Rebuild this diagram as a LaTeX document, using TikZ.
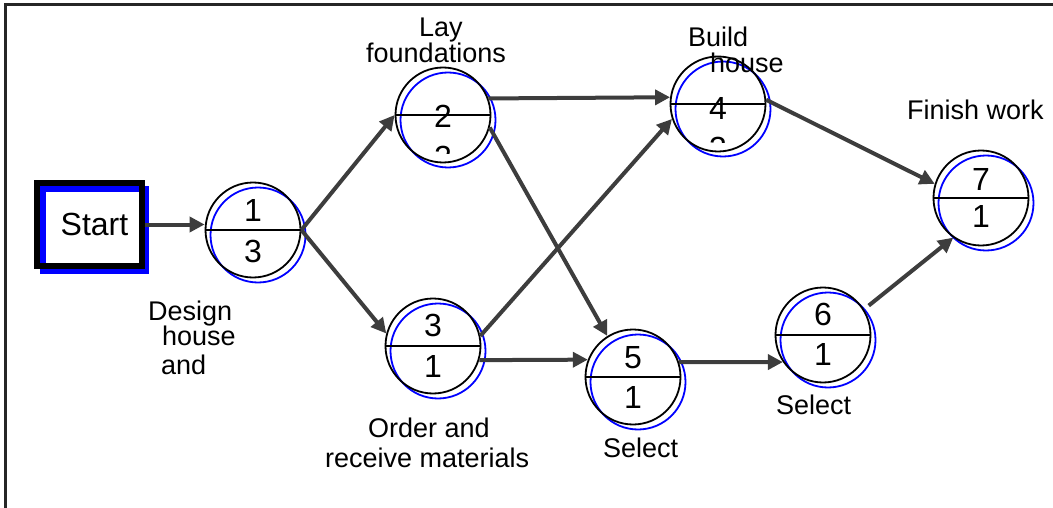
\documentclass[tikz,border=0pt]{standalone}
\usepackage{fontspec}
\setmainfont{Liberation Sans}
\usetikzlibrary{arrows.meta}
\begin{document}
\begin{tikzpicture}[x=1pt,y=-1pt,
    ev/.style={draw, circle, line width=1.8pt, minimum size=95pt, inner sep=0pt},
    num/.style={anchor=base, inner sep=0pt, font=\fontsize{32}{32}\selectfont},
    lbl/.style={anchor=base west, inner sep=0pt, font=\fontsize{27}{27}\selectfont},
    arr/.style={draw=black!76, line width=4pt, -{Triangle[length=15pt,width=15pt]}}]
    \useasboundingbox (0,0) rectangle (1053,508);
    % frame
    \draw[line width=3pt, black!85] (5,508) -- (5,4.5) -- (1053,4.5);
    % start box with its blue copy
    \node[draw=blue, line width=6pt, minimum width=103pt, minimum height=82pt] (starts) at (94.5,230) {};
    \node[draw, line width=6pt, minimum width=105pt, minimum height=83pt,
          font=\fontsize{32}{32}\selectfont] (start) at (89.5,224.5) {\hspace*{10pt}Start};
    % blue copies of the events
    \node[ev, draw=blue] (s1) at (258,235) {};
    \node[ev, draw=blue] (s2) at (448,120) {};
    \node[ev, draw=blue] (s3) at (438,351) {};
    \node[ev, draw=blue] (s4) at (723,109) {};
    \node[ev, draw=blue] (s5) at (638,382) {};
    \node[ev, draw=blue] (s6) at (828,340) {};
    \node[ev, draw=blue] (s7) at (986,203) {};
    % events
    \node[ev] (n1) at (253,230) {};
    \node[ev] (n2) at (443,115) {};
    \node[ev] (n3) at (433,346) {};
    \node[ev] (n4) at (718,104) {};
    \node[ev] (n5) at (633,377) {};
    \node[ev] (n6) at (823,335) {};
    \node[ev] (n7) at (981,198) {};
    \foreach \n in {n1,n2,n3,n4,n5,n6,n7}
        \draw[line width=2.2pt] (\n.west) -- (\n.east);
    % numbers
    \node[num] (t1) at (253,222) {1};
    \node[num] (b1) at (253,262) {3};
    \node[num] (t3) at (433,336) {3};
    \node[num] (b3) at (433,377) {1};
    \node[num] (t5) at (633,368) {5};
    \node[num] (b5) at (633,408) {1};
    \node[num] (t6) at (823,325) {6};
    \node[num] (b6) at (823,365) {1};
    \node[num] (t7) at (981,190) {7};
    \node[num] (b7) at (981,228) {1};
    \begin{scope}
        \clip (n2.north west) rectangle ([yshift=-39pt]n2.east);
        \node[num] (t2) at (443,128) {2};
        \node[num] (b2) at (443,168) {2};
    \end{scope}
    \begin{scope}
        \clip (n4.north west) rectangle ([yshift=-39pt]n4.east);
        \node[num] (t4) at (718,120) {4};
        \node[num] (b4) at (718,160) {3};
    \end{scope}
    % labels
    \node[lbl] (lay) at (419,37) {Lay};
    \node[lbl] (found) at (366,63) {foundations};
    \node[lbl] (build) at (688,47) {Build};
    \node[lbl] (bhouse) at (710,73) {house};
    \node[lbl] (finish) at (907,120) {Finish work};
    \node[lbl] (design) at (148,320) {Design};
    \node[lbl] (dhouse) at (162,345) {house};
    \node[lbl] (dand) at (161,374) {and};
    \node[lbl] (order) at (368,437) {Order and};
    \node[lbl] (receive) at (325,467) {receive materials};
    \node[lbl] (sel5) at (603,457) {Select};
    \node[lbl] (sel6) at (776,414) {Select};
    % arrows
    \draw[arr] (start.east) -- (n1.west |- start.east);
    \draw[arr] (n1.east) -- (n2.180);
    \draw[arr] (n1.east) -- (n3.165);
    \draw[arr] (n2.20) -- (n4.172);
    \draw[arr] (n2.-15) -- (n5.122);
    \draw[arr] (n3.12) -- (n4.198);
    \draw[arr] (n3.-17) -- (n5.159);
    \draw[arr] (n4.5) -- (n7.163);
    \draw[arr] (n5.18) -- (n6.214);
    \draw[arr, shorten <=6pt] (n6.32) -- (n7.235);
\end{tikzpicture}
\end{document}
